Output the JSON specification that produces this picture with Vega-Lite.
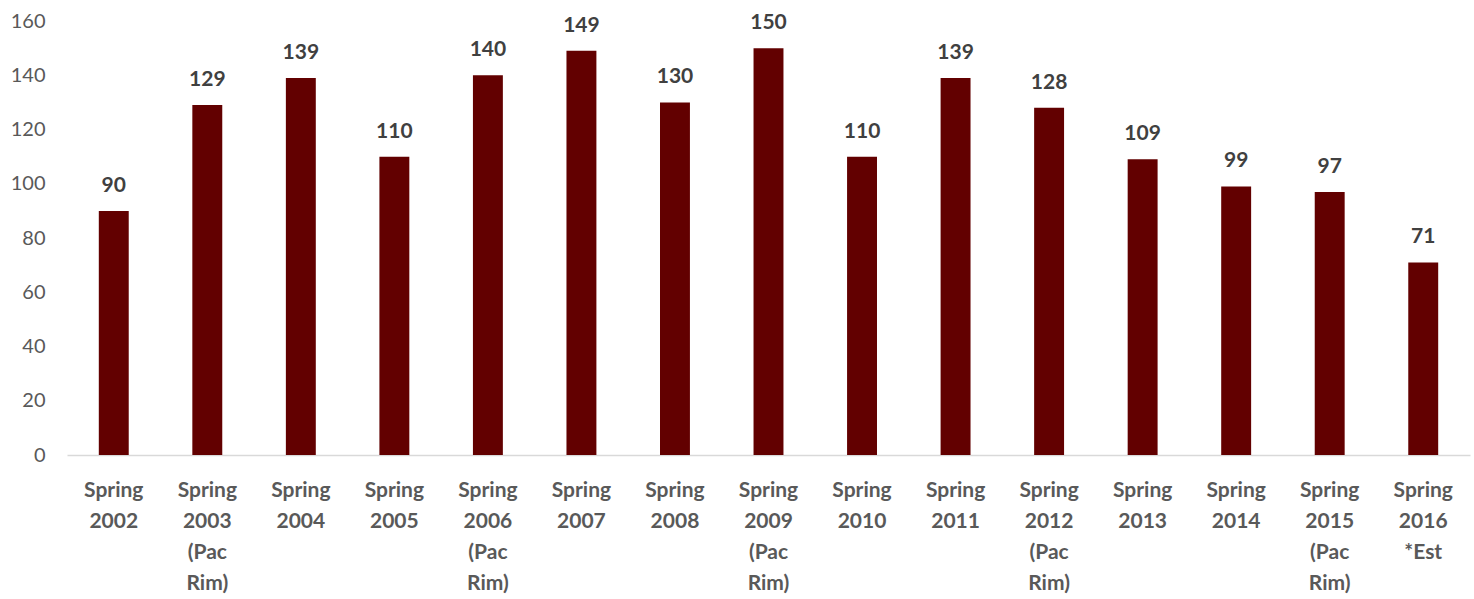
{
  "$schema": "https://vega.github.io/schema/vega-lite/v6.json",
  "autosize": {"type": "none"},
  "width": 1403,
  "height": 434,
  "padding": {"left": 67, "top": 21, "right": 4, "bottom": 144},
  "background": "white",
  "config": {"view": {"stroke": null}, "font": "Lato"},
  "data": {"values": [
    {"season": "Spring|2002", "value": 90},
    {"season": "Spring|2003|(Pac|Rim)", "value": 129},
    {"season": "Spring|2004", "value": 139},
    {"season": "Spring|2005", "value": 110},
    {"season": "Spring|2006|(Pac|Rim)", "value": 140},
    {"season": "Spring|2007", "value": 149},
    {"season": "Spring|2008", "value": 130},
    {"season": "Spring|2009|(Pac|Rim)", "value": 150},
    {"season": "Spring|2010", "value": 110},
    {"season": "Spring|2011", "value": 139},
    {"season": "Spring|2012|(Pac|Rim)", "value": 128},
    {"season": "Spring|2013", "value": 109},
    {"season": "Spring|2014", "value": 99},
    {"season": "Spring|2015|(Pac|Rim)", "value": 97},
    {"season": "Spring|2016|*Est", "value": 71}
  ]},
  "encoding": {
    "x": {
      "field": "season", "type": "nominal", "sort": null,
      "scale": {"paddingInner": 0.68, "paddingOuter": 0.34},
      "axis": {
        "title": null, "labelAngle": 0, "ticks": false,
        "domainColor": "#d9d9d9", "domainWidth": 1.5,
        "labelExpr": "split(datum.label, '|')",
        "labelFont": "Lato", "labelFontSize": 21, "labelFontWeight": "bold",
        "labelColor": "#595959", "labelLineHeight": 31, "labelPadding": 24,
        "labelBaseline": "top"
      }
    },
    "y": {
      "field": "value", "type": "quantitative",
      "scale": {"domain": [0, 160], "nice": false},
      "axis": {
        "title": null, "grid": false, "domain": false, "ticks": false,
        "values": [0, 20, 40, 60, 80, 100, 120, 140, 160],
        "labelFont": "Lato", "labelFontSize": 20, "labelColor": "#595959",
        "labelPadding": 22
      }
    }
  },
  "layer": [
    {"mark": {"type": "bar", "color": "#620000"}},
    {
      "mark": {"type": "text", "baseline": "bottom", "dy": -15, "font": "Lato", "fontSize": 21, "fontWeight": "bold", "color": "#404040"},
      "encoding": {"text": {"field": "value", "type": "quantitative"}}
    }
  ]
}
